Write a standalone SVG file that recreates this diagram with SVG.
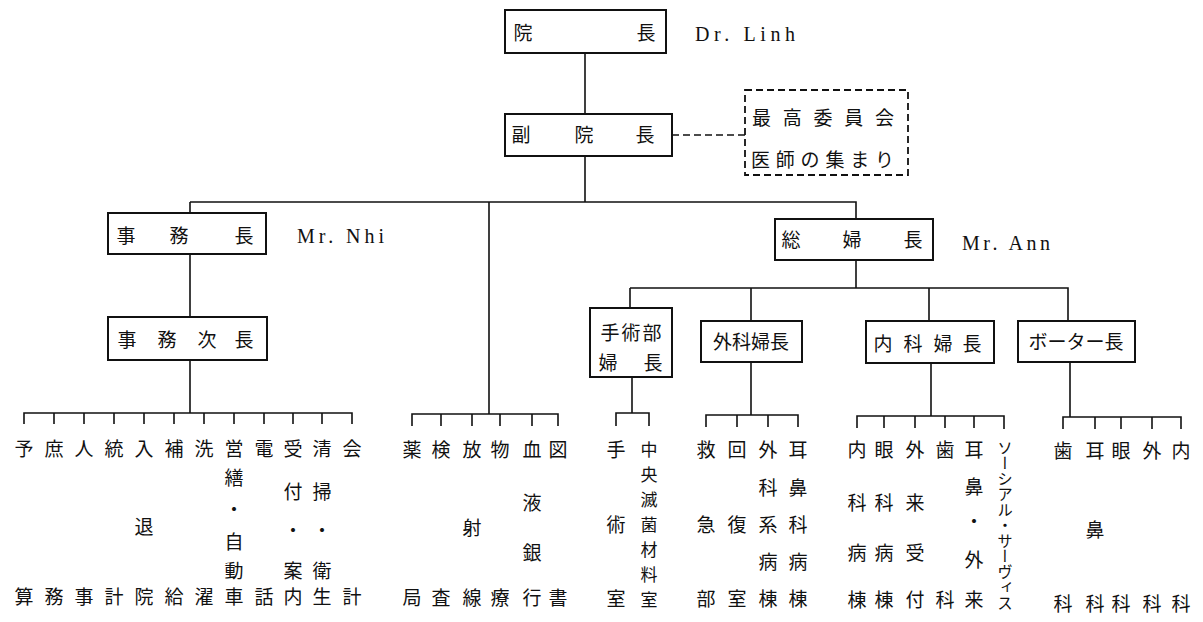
<svg xmlns="http://www.w3.org/2000/svg" width="1203" height="622" viewBox="0 0 1203 622">
<style>
.t{font-family:"Noto Sans CJK JP","Noto Sans CJK SC",sans-serif;font-size:19px;fill:#111;text-anchor:middle}
.s{font-size:17px}
.e{font-family:"Liberation Serif",serif;font-size:20px;fill:#111}
.box{fill:#fff;stroke:#111;stroke-width:2}
.dbox{fill:#fff;stroke:#111;stroke-width:1.8;stroke-dasharray:7,4}
.ln{stroke:#111;stroke-width:1.6;fill:none}
.dl{stroke:#111;stroke-width:1.6;fill:none;stroke-dasharray:7,4}
</style>
<rect width="1203" height="622" fill="#fff"/>
<g id="connectors">
<path class="ln" d="M585 53V114M585 156V202M190 202H856V219M190 202V213M489 202V414M190 254V317M190 360V413"/>
<path class="dl" d="M672 135H745"/>
<path class="ln" d="M24 424V413H352V424M54 413V424M84 413V424M114 413V424M144 413V424M174 413V424M204 413V424M234 413V424M264 413V424M293 413V424M322 413V424"/>
<path class="ln" d="M412 426V414H558V426M441 414V426M472 414V426M500 414V426M532 414V426"/>
<path class="ln" d="M856 260V288M630 288H1068V321M630 288V308M751 288V321M929 288V321"/>
<path class="ln" d="M632 377V413M616 426V413H649V426"/>
<path class="ln" d="M751 362V415M706 427V415H798V427M737 415V427M768 415V427"/>
<path class="ln" d="M931 363V416M857 428V416H1004V429M884 416V428M915 416V428M945 416V428M974 416V428"/>
<path class="ln" d="M1070 362V417M1063 429V417H1181V429M1095 417V429M1121 417V429M1152 417V429"/>
</g>
<g id="director">
<rect class="box" x="505" y="10" width="161" height="43"/>
<text class="t"><tspan x="523" y="40">院</tspan><tspan x="646" y="40">長</tspan></text>
<text class="e" x="695" y="41" textLength="100" lengthAdjust="spacing">Dr. Linh</text>
</g>
<g id="vice-director">
<rect class="box" x="505" y="114" width="167" height="42"/>
<text class="t"><tspan x="521" y="142">副</tspan><tspan x="584" y="142">院</tspan><tspan x="645" y="142">長</tspan></text>
</g>
<g id="committee">
<rect class="dbox" x="745" y="90" width="163" height="85"/>
<text class="t" style="text-anchor:start" x="752" y="125" textLength="142" lengthAdjust="spacing">最高委員会</text>
<text class="t" style="text-anchor:start" x="751" y="167" textLength="143" lengthAdjust="spacing">医師の集まり</text>
</g>
<g id="admin-chief">
<rect class="box" x="108" y="213" width="158" height="41"/>
<text class="t"><tspan x="126" y="243">事</tspan><tspan x="179" y="243">務</tspan><tspan x="244" y="243">長</tspan></text>
<text class="e" x="297" y="243" textLength="87" lengthAdjust="spacing">Mr. Nhi</text>
</g>
<g id="admin-deputy">
<rect class="box" x="108" y="317" width="159" height="43"/>
<text class="t"><tspan x="127" y="347">事</tspan><tspan x="167" y="347">務</tspan><tspan x="207" y="347">次</tspan><tspan x="244" y="347">長</tspan></text>
</g>
<g id="head-nurse">
<rect class="box" x="775" y="219" width="158" height="41"/>
<text class="t"><tspan x="791" y="247">総</tspan><tspan x="852" y="247">婦</tspan><tspan x="913" y="247">長</tspan></text>
<text class="e" x="962" y="250" textLength="88" lengthAdjust="spacing">Mr. Ann</text>
</g>
<g id="surgery-nurse">
<rect class="box" x="590" y="308" width="82" height="69"/>
<text class="t"><tspan x="610" y="340">手</tspan><tspan x="631" y="340">術</tspan><tspan x="652" y="340">部</tspan><tspan x="608" y="370">婦</tspan><tspan x="653" y="370">長</tspan></text>
</g>
<g id="surgical-nurse">
<rect class="box" x="701" y="321" width="101" height="41"/>
<text class="t" x="751" y="349">外科婦長</text>
</g>
<g id="medical-nurse">
<rect class="box" x="866" y="321" width="128" height="42"/>
<text class="t"><tspan x="883" y="351">内</tspan><tspan x="913" y="351">科</tspan><tspan x="943" y="351">婦</tspan><tspan x="972" y="351">長</tspan></text>
</g>
<g id="porter-chief">
<rect class="box" x="1018" y="321" width="117" height="41"/>
<text class="t" x="1076" y="349">ボーター長</text>
</g>
<g id="admin-units">
<text class="t"><tspan x="24" y="456">予</tspan><tspan x="24" y="604">算</tspan></text>
<text class="t"><tspan x="54" y="456">庶</tspan><tspan x="54" y="604">務</tspan></text>
<text class="t"><tspan x="84" y="456">人</tspan><tspan x="84" y="604">事</tspan></text>
<text class="t"><tspan x="114" y="456">統</tspan><tspan x="114" y="604">計</tspan></text>
<text class="t"><tspan x="144" y="456">入</tspan><tspan x="144" y="534">退</tspan><tspan x="144" y="604">院</tspan></text>
<text class="t"><tspan x="174" y="456">補</tspan><tspan x="174" y="604">給</tspan></text>
<text class="t"><tspan x="204" y="456">洗</tspan><tspan x="204" y="604">濯</tspan></text>
<text class="t"><tspan x="234" y="456">営</tspan><tspan x="234" y="485">繕</tspan><tspan x="234" y="517">・</tspan><tspan x="234" y="549">自</tspan><tspan x="234" y="578">動</tspan><tspan x="234" y="604">車</tspan></text>
<text class="t"><tspan x="264" y="456">電</tspan><tspan x="264" y="604">話</tspan></text>
<text class="t"><tspan x="293" y="456">受</tspan><tspan x="293" y="499">付</tspan><tspan x="293" y="538">・</tspan><tspan x="293" y="578">案</tspan><tspan x="293" y="604">内</tspan></text>
<text class="t"><tspan x="322" y="456">清</tspan><tspan x="322" y="499">掃</tspan><tspan x="322" y="538">・</tspan><tspan x="322" y="578">衛</tspan><tspan x="322" y="604">生</tspan></text>
<text class="t"><tspan x="352" y="456">会</tspan><tspan x="352" y="604">計</tspan></text>
</g>
<g id="medical-support">
<text class="t"><tspan x="412" y="457">薬</tspan><tspan x="412" y="605">局</tspan></text>
<text class="t"><tspan x="441" y="457">検</tspan><tspan x="441" y="605">査</tspan></text>
<text class="t"><tspan x="472" y="457">放</tspan><tspan x="472" y="535">射</tspan><tspan x="472" y="605">線</tspan></text>
<text class="t"><tspan x="500" y="457">物</tspan><tspan x="500" y="605">療</tspan></text>
<text class="t"><tspan x="532" y="457">血</tspan><tspan x="532" y="510">液</tspan><tspan x="532" y="560">銀</tspan><tspan x="532" y="605">行</tspan></text>
<text class="t"><tspan x="558" y="457">図</tspan><tspan x="558" y="605">書</tspan></text>
</g>
<g id="surgery-units">
<text class="t"><tspan x="616" y="457">手</tspan><tspan x="616" y="532">術</tspan><tspan x="616" y="606">室</tspan></text>
<text class="t s"><tspan x="649" y="456">中</tspan><tspan x="649" y="481">央</tspan><tspan x="649" y="506">滅</tspan><tspan x="649" y="531">菌</tspan><tspan x="649" y="556">材</tspan><tspan x="649" y="581">料</tspan><tspan x="649" y="606">室</tspan></text>
</g>
<g id="surgical-units">
<text class="t"><tspan x="706" y="457">救</tspan><tspan x="706" y="532">急</tspan><tspan x="706" y="606">部</tspan></text>
<text class="t"><tspan x="737" y="457">回</tspan><tspan x="737" y="532">復</tspan><tspan x="737" y="606">室</tspan></text>
<text class="t"><tspan x="768" y="457">外</tspan><tspan x="768" y="495">科</tspan><tspan x="768" y="532">系</tspan><tspan x="768" y="569">病</tspan><tspan x="768" y="606">棟</tspan></text>
<text class="t"><tspan x="798" y="457">耳</tspan><tspan x="798" y="495">鼻</tspan><tspan x="798" y="532">科</tspan><tspan x="798" y="569">病</tspan><tspan x="798" y="606">棟</tspan></text>
</g>
<g id="medical-units">
<text class="t"><tspan x="857" y="457">内</tspan><tspan x="857" y="510">科</tspan><tspan x="857" y="560">病</tspan><tspan x="857" y="607">棟</tspan></text>
<text class="t"><tspan x="884" y="457">眼</tspan><tspan x="884" y="510">科</tspan><tspan x="884" y="560">病</tspan><tspan x="884" y="607">棟</tspan></text>
<text class="t"><tspan x="915" y="457">外</tspan><tspan x="915" y="510">来</tspan><tspan x="915" y="560">受</tspan><tspan x="915" y="607">付</tspan></text>
<text class="t"><tspan x="945" y="457">歯</tspan><tspan x="945" y="607">科</tspan></text>
<text class="t"><tspan x="974" y="457">耳</tspan><tspan x="974" y="494">鼻</tspan><tspan x="974" y="529">・</tspan><tspan x="974" y="567">外</tspan><tspan x="974" y="607">来</tspan></text>
<text class="t" x="1005" y="440" style="writing-mode:vertical-rl;text-anchor:start;font-size:15.5px">ソーシアル・サーヴィス</text>
</g>
<g id="porter-units">
<text class="t"><tspan x="1063" y="458">歯</tspan><tspan x="1063" y="611">科</tspan></text>
<text class="t"><tspan x="1095" y="458">耳</tspan><tspan x="1095" y="537">鼻</tspan><tspan x="1095" y="611">科</tspan></text>
<text class="t"><tspan x="1121" y="458">眼</tspan><tspan x="1121" y="611">科</tspan></text>
<text class="t"><tspan x="1152" y="458">外</tspan><tspan x="1152" y="611">科</tspan></text>
<text class="t"><tspan x="1181" y="458">内</tspan><tspan x="1181" y="611">科</tspan></text>
</g>
</svg>
